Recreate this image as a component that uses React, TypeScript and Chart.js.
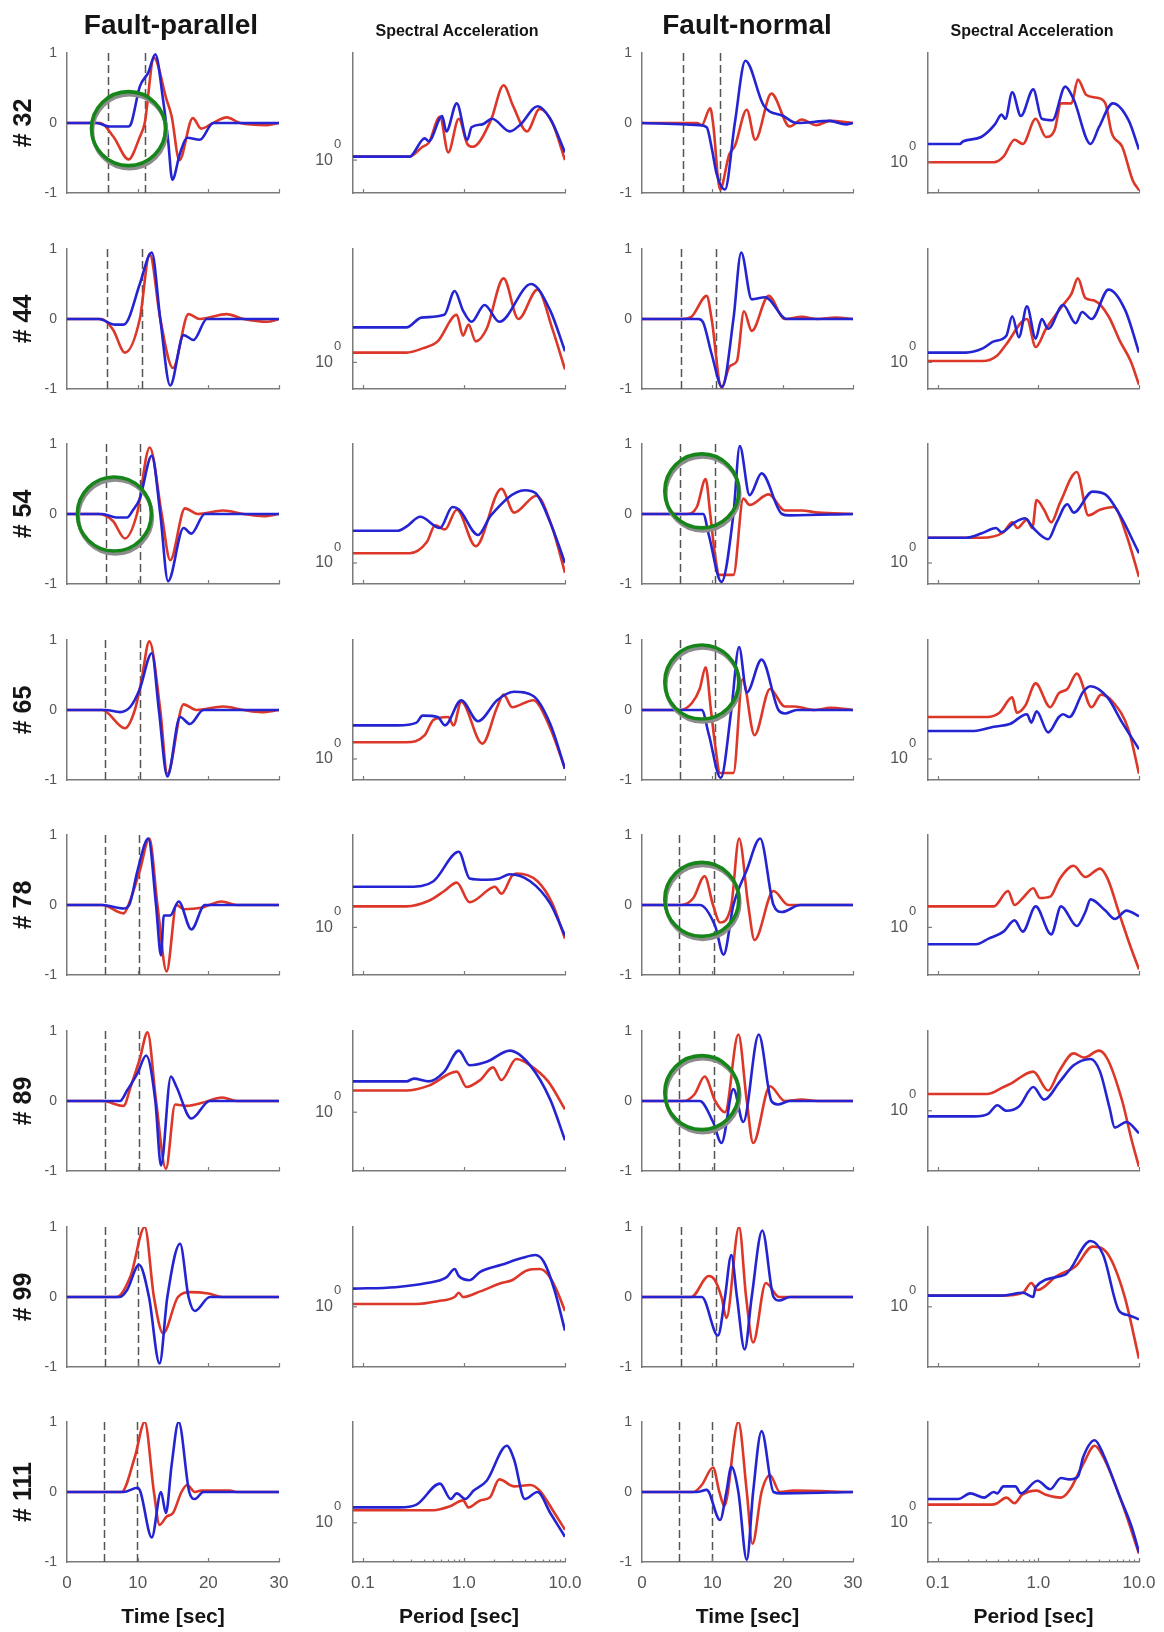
import React, { useEffect, useRef } from 'react';
import { Chart, registerables } from 'chart.js';

Chart.register(...registerables);

type Pt = [number, number];

// ---------- labels & ticks ----------
const rowLabels = ['# 32', '# 44', '# 54', '# 65', '# 78', '# 89', '# 99', '# 111'];
const columnTitles = ['Fault-parallel', 'Spectral Acceleration', 'Fault-normal', 'Spectral Acceleration'];
const timeTicks = [0, 10, 20, 30];
const periodTicks = [0.1, 1, 10];
const periodMinorTicks = [0.2, 0.3, 0.4, 0.5, 0.6, 0.7, 0.8, 0.9, 2, 3, 4, 5, 6, 7, 8, 9];
const amplitudeTicks = [-1, 0, 1];

// ---------- normalized velocity time histories: [time s, amplitude] ----------
const fpRed: Pt[][] = [
  [[0,0],[4.7,0],[6.6,-0.2],[8.7,-0.52],[10.3,-0.2],[11,0],[12.3,0.93],[14.1,0.33],[14.8,0.1],[15.9,-0.53],[17.8,0.07],[19,-0.08],[20.5,-0.01],[22.6,0.08],[24.5,0],[28.3,-0.03],[30,0]],
  [[0,0],[4.9,0],[6.5,-0.15],[8.2,-0.48],[10.3,0],[11.7,0.93],[13.2,0],[15,-0.7],[17.2,0.07],[18.8,0],[22.6,0.07],[25,0],[28.3,-0.04],[30,0]],
  [[0,0],[4.5,0],[6.5,-0.1],[8.2,-0.35],[9.9,0],[11.7,0.95],[13.4,0],[14.6,-0.66],[16.7,0.08],[18.5,0],[22.1,0.05],[25,0],[27.8,-0.03],[30,0]],
  [[0,0],[5,0],[8.2,-0.26],[9.6,0],[10.5,0.4],[11.65,0.98],[13.2,0],[14.2,-0.91],[16.5,0.08],[18.3,0],[22.1,0.05],[25,0],[27.5,-0.03],[30,0]],
  [[0,0],[5,0],[8,-0.12],[8.7,0],[10.3,0.49],[11.65,0.95],[12.8,0],[14.1,-0.95],[15.5,0],[16.5,-0.06],[19,-0.04],[21.9,0.05],[24,0],[30,0]],
  [[0,0],[5,0],[8,-0.07],[9,0.2],[10.3,0.6],[11.4,0.98],[12.6,0],[14,-0.97],[15.3,-0.05],[17,-0.07],[19,-0.03],[22,0.05],[24,0],[30,0]],
  [[0,0],[7,0],[9,0.3],[11,1.0],[12.3,0],[13.6,-0.52],[15.7,0],[17.5,0.07],[20,0.05],[22,0],[30,0]],
  [[0,0],[7.7,0],[9.6,0.5],[11,1.0],[12.3,0],[13.1,-0.47],[14.1,-0.35],[15,-0.3],[16.2,0],[17,0.1],[18.1,0],[19,0.02],[23,0.02],[24,0],[30,0]],
];
const fpBlue: Pt[][] = [
  [[0,0],[4.2,0],[6,-0.05],[8.7,-0.05],[9.1,0],[10.3,0.52],[11.5,0.72],[12.5,0.98],[13.6,0.33],[14.3,-0.24],[14.9,-0.81],[16,-0.43],[17,-0.21],[18.8,-0.24],[20.7,0],[30,0]],
  [[0,0],[4.5,0],[6.8,-0.08],[8,-0.08],[8.7,0],[10.3,0.5],[12,0.95],[13.2,0],[14.6,-0.95],[16.5,-0.23],[17.9,-0.3],[19.8,0],[30,0]],
  [[0,0],[5,0],[7,-0.05],[8.5,-0.05],[9.3,0.05],[10.3,0.22],[12,0.83],[13.2,0],[14.3,-0.96],[16.5,-0.2],[17.6,-0.28],[19.5,0],[30,0]],
  [[0,0],[5.5,0],[7.5,-0.03],[9,0.05],[10.3,0.3],[12,0.81],[13,0],[14.2,-0.95],[16,-0.1],[17.4,-0.2],[19.3,0],[30,0]],
  [[0,0],[5,0],[8,-0.05],[8.8,0],[10,0.5],[11.5,0.95],[12.6,0],[13.3,-0.72],[13.7,-0.15],[14.6,-0.15],[15.8,0.05],[17.6,-0.35],[19.5,0],[30,0]],
  [[0,0],[5.5,0],[7.5,0],[8.5,0.15],[10,0.4],[11.2,0.65],[12.5,0],[13.3,-0.92],[14.7,0.35],[15.5,0.2],[17.6,-0.25],[20.2,0],[30,0]],
  [[0,0],[7.5,0],[8.5,0.1],[10.2,0.46],[11.6,0],[13.1,-0.95],[14.2,0],[16,0.76],[17.2,0],[18.1,-0.2],[20.2,0],[30,0]],
  [[0,0],[8,0],[10,0.06],[10.4,0],[12,-0.65],[13.3,0],[14,-0.3],[14.8,0.38],[15.8,1.0],[17.3,0],[18.1,-0.1],[19.3,0],[30,0]],
];
const fnRed: Pt[][] = [
  [[0,0],[7.8,0],[8.5,-0.03],[9.7,0.21],[10.1,0],[11.1,-0.95],[12.4,-0.45],[13.2,-0.33],[14.9,0.19],[16.1,-0.24],[18.4,0.42],[21,-0.05],[22.7,0.05],[24.8,-0.03],[26.7,0.03],[30,0]],
  [[0,0],[5.6,0],[7,0.03],[9.2,0.33],[9.9,0],[11.3,-0.98],[12.5,-0.67],[13.5,-0.6],[14.5,0.11],[15.6,-0.17],[18,0.33],[20.3,0],[22.7,0.03],[25,0],[27.5,0.02],[30,0]],
  [[0,0],[6.3,0],[7.8,0.1],[9.05,0.5],[9.7,0],[10.4,-0.6],[11,-0.87],[13,-0.87],[14.4,0.22],[15.3,0.13],[18,0.28],[20.3,0.05],[22.7,0.05],[25,0.02],[30,0]],
  [[0,0],[5.4,0],[7.1,0.1],[8.2,0.3],[9.05,0.61],[9.8,0],[10.4,-0.5],[11.1,-0.9],[13,-0.9],[14.3,0.44],[16,-0.36],[18.2,0.3],[20.3,0.05],[21.7,0.05],[24.5,0],[26.8,0.03],[30,0]],
  [[0,0],[5.6,0],[7.3,0.1],[8.9,0.41],[10.1,0],[11.1,-0.25],[12.7,0],[13.8,0.95],[15.1,0],[16,-0.5],[18.7,0.2],[20.8,0],[30,0]],
  [[0,0],[5.9,0],[7.5,0.1],[8.9,0.35],[10.4,0],[11.8,-0.16],[13.7,0.95],[14.9,0],[15.8,-0.6],[18.2,0.21],[20.3,0],[22.7,0.02],[25,0],[30,0]],
  [[0,0],[7,0],[9.5,0.3],[10.3,0.25],[11.3,0],[12,-0.3],[13.8,1.0],[14.8,0],[15.8,-0.65],[17.6,0.2],[19.5,0],[30,0]],
  [[0,0],[7.3,0],[8.5,0.1],[10.1,0.35],[11,0],[11.7,-0.2],[13.7,1.0],[14.9,0],[15.7,-0.74],[17,0],[18.2,0.24],[19.6,0],[21.5,0.02],[30,0]],
];
const fnBlue: Pt[][] = [
  [[0,0],[8.2,-0.03],[9.2,-0.06],[9.9,-0.35],[10.6,-0.72],[11.8,-0.95],[13.2,0],[14.7,0.89],[17.3,0.25],[20.1,0.1],[22,0],[26.7,0.03],[29,-0.02],[30,0]],
  [[0,0],[8,0],[8.7,-0.05],[9.9,-0.5],[11.4,-0.97],[13,0],[14.1,0.95],[15.6,0.28],[17.5,0.31],[20.6,0],[30,0]],
  [[0,0],[8.7,0],[9.5,-0.3],[11.3,-0.97],[13,0],[13.9,0.97],[15.3,0.27],[17,0.58],[19.9,0],[21,-0.02],[30,0]],
  [[0,0],[8.5,0],[9.5,-0.35],[11.2,-0.97],[12.7,0],[13.8,0.9],[14.9,0.25],[17,0.72],[19.4,0],[20.3,-0.05],[22,0],[30,0]],
  [[0,0],[8.2,0],[10.4,-0.3],[11.6,-0.71],[13,0],[14.9,0.5],[16.8,0.95],[18.7,0],[19.9,-0.1],[22.5,0],[30,0]],
  [[0,0],[8.2,0],[10.1,-0.3],[11.3,-0.6],[13,0.17],[14.4,-0.3],[16.6,0.95],[18.4,0],[19.3,-0.05],[21,0],[30,0]],
  [[0,0],[8.5,0],[10.8,-0.55],[11.8,0],[12.7,0.6],[13.5,0],[14.6,-0.75],[15.6,0],[17.1,0.95],[18.7,0],[19.5,-0.05],[21,0],[30,0]],
  [[0,0],[7.8,0],[9.2,0.03],[11.1,-0.4],[12,0],[12.7,0.36],[13.7,0],[14.9,-0.97],[15.8,0],[17,0.87],[18.7,0],[19.8,-0.02],[30,0]],
];

// start / end markers of the pulse window (s)
const fpMarkers: Pt[] = [[5.85,11.1],[5.6,10.6],[5.5,10.4],[5.4,10.3],[5.4,10.2],[5.4,10.2],[5.4,10.0],[5.3,9.95]];
const fnMarkers: Pt[] = [[5.8,11.1],[5.5,10.5],[5.45,10.4],[5.45,10.4],[5.2,10.2],[5.2,10.2],[5.6,10.5],[5.3,9.9]];

// highlighted regions [time, amplitude]
const fpHighlights: (Pt | null)[] = [[8.7,-0.08], null, [6.7,0], null, null, null, null, null];
const fnHighlights: (Pt | null)[] = [null, null, [8.5,0.33], [8.5,0.4], [8.5,0.08], [8.5,0.12], null, null];

// ---------- spectral acceleration: [period s, relative log level] ----------
const saFpRed: Pt[][] = [
  [[0.08,0.26],[0.29,0.26],[0.39,0.33],[0.45,0.36],[0.58,0.545],[0.7,0.29],[0.89,0.53],[1.08,0.35],[1.22,0.33],[1.85,0.52],[2.47,0.77],[3.07,0.62],[4.2,0.44],[5.62,0.6],[7.5,0.5],[10,0.235]],
  [[0.08,0.26],[0.27,0.26],[0.39,0.29],[0.55,0.34],[0.85,0.53],[0.98,0.38],[1.11,0.46],[1.31,0.34],[1.68,0.43],[2.47,0.79],[3.46,0.5],[5.35,0.71],[7.5,0.43],[10,0.14]],
  [[0.08,0.22],[0.29,0.22],[0.43,0.3],[0.52,0.42],[0.65,0.39],[0.85,0.53],[1.31,0.27],[2.35,0.68],[3.14,0.51],[5.22,0.63],[7.5,0.4],[10,0.08]],
  [[0.08,0.27],[0.27,0.27],[0.41,0.32],[0.5,0.43],[0.7,0.45],[0.79,0.39],[0.94,0.56],[1.52,0.26],[2.13,0.52],[2.47,0.61],[3.0,0.52],[4.86,0.57],[7.15,0.37],[10,0.08]],
  [[0.08,0.49],[0.27,0.49],[0.45,0.53],[0.64,0.6],[0.85,0.66],[1.14,0.52],[1.85,0.62],[2.03,0.63],[2.35,0.58],[3.0,0.71],[3.3,0.725],[5.35,0.67],[7.5,0.51],[10,0.26]],
  [[0.08,0.575],[0.27,0.575],[0.45,0.61],[0.85,0.71],[1.06,0.6],[1.45,0.65],[1.94,0.74],[2.35,0.65],[3.3,0.8],[4.52,0.755],[6.81,0.64],[10,0.44]],
  [[0.08,0.45],[0.34,0.45],[0.55,0.47],[0.81,0.5],[0.89,0.53],[0.98,0.5],[1.45,0.54],[2.35,0.6],[3.0,0.62],[4.2,0.69],[5.62,0.7],[6.81,0.66],[8.26,0.55],[10,0.4]],
  [[0.08,0.37],[0.5,0.37],[0.74,0.4],[0.98,0.44],[1.11,0.39],[1.45,0.44],[1.8,0.46],[2.24,0.59],[3.14,0.54],[4.52,0.55],[5.62,0.51],[7.87,0.35],[10,0.23]],
];
const saFpBlue: Pt[][] = [
  [[0.08,0.26],[0.29,0.26],[0.41,0.39],[0.45,0.37],[0.61,0.55],[0.67,0.44],[0.85,0.64],[1.08,0.38],[1.19,0.47],[1.52,0.49],[1.9,0.53],[2.85,0.44],[3.63,0.49],[5.35,0.62],[7.15,0.53],[10,0.29]],
  [[0.08,0.44],[0.27,0.44],[0.38,0.51],[0.64,0.53],[0.81,0.7],[0.98,0.56],[1.19,0.48],[1.6,0.6],[2.24,0.48],[4.63,0.75],[7.15,0.56],[10,0.27]],
  [[0.08,0.38],[0.22,0.38],[0.27,0.41],[0.37,0.48],[0.58,0.4],[0.77,0.55],[0.9,0.53],[1.38,0.35],[1.85,0.49],[4.0,0.67],[5.1,0.65],[7.15,0.44],[10,0.15]],
  [[0.08,0.39],[0.22,0.39],[0.34,0.41],[0.39,0.46],[0.55,0.45],[0.65,0.39],[0.94,0.57],[1.38,0.42],[2.13,0.57],[3.14,0.63],[4.86,0.6],[7.15,0.4],[10,0.08]],
  [[0.08,0.63],[0.29,0.63],[0.5,0.67],[0.89,0.88],[1.14,0.69],[1.68,0.68],[2.24,0.69],[2.85,0.72],[4.52,0.67],[7.15,0.51],[10,0.28]],
  [[0.08,0.64],[0.27,0.64],[0.32,0.66],[0.45,0.64],[0.64,0.71],[0.89,0.86],[1.14,0.755],[1.68,0.78],[2.85,0.86],[4.52,0.755],[7.15,0.51],[10,0.22]],
  [[0.08,0.56],[0.21,0.57],[0.43,0.6],[0.67,0.64],[0.81,0.7],[0.89,0.65],[1.14,0.62],[1.45,0.68],[2.35,0.73],[3.82,0.78],[5.1,0.8],[6.19,0.75],[7.87,0.55],[10,0.26]],
  [[0.08,0.39],[0.23,0.39],[0.34,0.41],[0.58,0.56],[0.74,0.45],[0.85,0.49],[1.03,0.45],[1.25,0.51],[1.68,0.58],[2.66,0.83],[3.14,0.73],[4.0,0.45],[5.35,0.5],[7.15,0.35],[10,0.18]],
];
const saFnRed: Pt[][] = [
  [[0.08,0.22],[0.36,0.22],[0.45,0.26],[0.58,0.38],[0.7,0.35],[0.94,0.53],[1.19,0.4],[1.45,0.45],[1.68,0.64],[2.13,0.64],[2.47,0.81],[3.0,0.7],[3.82,0.68],[4.63,0.64],[5.35,0.43],[6.81,0.33],[8.67,0.09],[10,0.02]],
  [[0.08,0.2],[0.28,0.2],[0.39,0.24],[0.48,0.32],[0.77,0.5],[0.94,0.3],[1.19,0.43],[1.76,0.6],[2.13,0.68],[2.47,0.79],[2.93,0.65],[3.63,0.63],[4.98,0.52],[6.49,0.34],[8.26,0.2],[10,0.03]],
  [[0.08,0.33],[0.27,0.33],[0.45,0.37],[0.55,0.44],[0.62,0.4],[0.77,0.46],[0.87,0.4],[0.96,0.6],[1.14,0.53],[1.34,0.44],[1.64,0.58],[2.41,0.8],[3.14,0.49],[4.1,0.53],[5.62,0.55],[7.5,0.35],[10,0.05]],
  [[0.08,0.45],[0.31,0.45],[0.41,0.48],[0.55,0.59],[0.61,0.48],[0.74,0.53],[0.94,0.69],[1.31,0.52],[1.6,0.62],[1.94,0.65],[2.41,0.76],[3.38,0.52],[4.2,0.61],[5.62,0.55],[7.87,0.36],[10,0.045]],
  [[0.08,0.49],[0.36,0.49],[0.5,0.6],[0.58,0.5],[0.7,0.55],[0.89,0.62],[1.03,0.55],[1.31,0.56],[1.64,0.69],[2.24,0.78],[2.93,0.7],[4.1,0.76],[4.86,0.69],[6.49,0.42],[8.26,0.2],[10,0.04]],
  [[0.08,0.55],[0.31,0.55],[0.45,0.6],[0.52,0.62],[0.89,0.71],[1.25,0.575],[1.6,0.71],[2.24,0.84],[2.85,0.81],[4.0,0.86],[4.86,0.8],[6.81,0.5],[8.46,0.22],[10,0.03]],
  [[0.08,0.51],[0.43,0.51],[0.7,0.53],[0.85,0.6],[0.98,0.55],[1.52,0.65],[2.35,0.72],[3.46,0.86],[4.86,0.81],[7.15,0.51],[10,0.06]],
  [[0.08,0.41],[0.34,0.41],[0.39,0.42],[0.48,0.46],[0.58,0.42],[0.69,0.48],[0.96,0.51],[1.19,0.48],[1.68,0.46],[2.03,0.51],[2.79,0.7],[3.63,0.83],[4.41,0.75],[6.49,0.46],[10,0.06]],
];
const saFnBlue: Pt[][] = [
  [[0.08,0.35],[0.165,0.35],[0.18,0.37],[0.27,0.4],[0.37,0.49],[0.43,0.56],[0.47,0.53],[0.55,0.72],[0.67,0.55],[0.89,0.74],[1.08,0.53],[1.38,0.52],[1.85,0.76],[2.24,0.67],[3.3,0.35],[4.0,0.47],[5.5,0.64],[7.87,0.52],[10,0.31]],
  [[0.08,0.26],[0.19,0.26],[0.28,0.29],[0.36,0.34],[0.48,0.38],[0.55,0.52],[0.64,0.37],[0.77,0.59],[0.94,0.36],[1.08,0.5],[1.25,0.43],[1.76,0.6],[2.35,0.47],[2.72,0.55],[3.38,0.5],[4.98,0.71],[7.33,0.56],[10,0.26]],
  [[0.08,0.33],[0.19,0.33],[0.27,0.36],[0.38,0.4],[0.43,0.37],[0.58,0.44],[0.74,0.47],[0.89,0.4],[1.25,0.32],[1.52,0.44],[1.94,0.57],[2.24,0.51],[3.46,0.66],[4.63,0.64],[6.49,0.49],[10,0.22]],
  [[0.08,0.35],[0.23,0.35],[0.36,0.38],[0.52,0.4],[0.77,0.47],[0.85,0.41],[0.96,0.49],[1.25,0.34],[1.6,0.45],[1.76,0.47],[2.03,0.45],[2.79,0.63],[3.3,0.67],[4.86,0.59],[6.81,0.41],[10,0.22]],
  [[0.08,0.22],[0.24,0.22],[0.32,0.26],[0.45,0.31],[0.58,0.39],[0.7,0.31],[0.94,0.49],[1.34,0.29],[1.68,0.49],[2.41,0.35],[2.93,0.45],[3.3,0.54],[4.63,0.46],[5.75,0.4],[7.5,0.46],[10,0.42]],
  [[0.08,0.39],[0.23,0.39],[0.32,0.41],[0.39,0.47],[0.48,0.43],[0.64,0.46],[0.89,0.6],[1.14,0.51],[1.64,0.64],[2.24,0.755],[3.3,0.8],[4.1,0.71],[5.1,0.45],[5.75,0.31],[7.5,0.35],[10,0.27]],
  [[0.08,0.51],[0.43,0.51],[0.7,0.53],[0.89,0.5],[0.94,0.57],[1.85,0.66],[3.3,0.9],[4.41,0.8],[6.35,0.4],[7.87,0.37],[10,0.34]],
  [[0.08,0.45],[0.16,0.45],[0.21,0.49],[0.29,0.46],[0.36,0.5],[0.39,0.49],[0.45,0.54],[0.59,0.54],[0.67,0.49],[0.98,0.58],[1.31,0.52],[1.68,0.6],[2.03,0.59],[2.47,0.61],[2.79,0.75],[3.63,0.87],[4.41,0.77],[6.49,0.46],[8.46,0.25],[10,0.07]],
];
// level of the 10^0 reference on each spectral axis
const saFpRef = [0.235, 0.19, 0.15, 0.15, 0.34, 0.42, 0.43, 0.28];
const saFnRef = [0.22, 0.19, 0.15, 0.15, 0.34, 0.43, 0.43, 0.28];

// ---------- styling / layout ----------
const FONT = "'Liberation Sans', Arial, Helvetica, sans-serif";
const RED = '#dc3728';
const BLUE = '#2424d2';
const AXIS = '#7a7a7a';
const LABEL = '#555555';
const DASH = '#555555';
const COL_LEFT = [67, 353, 642, 928];
const COL_W = [212, 212, 211, 211];
const ROW_TOP0 = 53;
const ROW_PITCH = 195.6;
const PLOT_H = 140;
const PADL = 62;
const PADT = 14;
const PADR = 26;
const TITLE_X = [171, 457, 747, 1032];

const rowTop = (r: number) => Math.round(ROW_TOP0 + r * ROW_PITCH);
const padBottom = (r: number) => (r === 7 ? 72 : 12);

function seriesFor(r: number, c: number): [Pt[], Pt[]] {
  if (c === 0) return [fpBlue[r], fpRed[r]];
  if (c === 1) return [saFpBlue[r], saFpRed[r]];
  if (c === 2) return [fnBlue[r], fnRed[r]];
  return [saFnBlue[r], saFnRed[r]];
}

function decorPlugin(r: number, c: number) {
  const isTime = c % 2 === 0;
  const bottom = r === 7;
  const ref = c === 1 ? saFpRef[r] : saFnRef[r];
  return {
    id: `decor_${r}_${c}`,
    beforeDatasetsDraw(chart: any) {
      if (!isTime) return;
      const { ctx } = chart;
      const x = chart.scales.x;
      const y = chart.scales.y;
      const marks = c === 0 ? fpMarkers[r] : fnMarkers[r];
      ctx.save();
      ctx.strokeStyle = DASH;
      ctx.lineWidth = 1.5;
      ctx.setLineDash([8, 4]);
      for (const t of marks) {
        const px = Math.round(x.getPixelForValue(t)) + 0.5;
        ctx.beginPath();
        ctx.moveTo(px, y.getPixelForValue(1));
        ctx.lineTo(px, y.getPixelForValue(-1));
        ctx.stroke();
      }
      ctx.restore();
    },
    afterDatasetsDraw(chart: any) {
      if (!isTime) return;
      const h = c === 0 ? fpHighlights[r] : fnHighlights[r];
      if (!h) return;
      const { ctx } = chart;
      const cx = chart.scales.x.getPixelForValue(h[0]);
      const cy = chart.scales.y.getPixelForValue(h[1]);
      ctx.save();
      ctx.lineWidth = 3.6;
      ctx.strokeStyle = '#8c8c8c';
      ctx.beginPath();
      ctx.arc(cx + 1, cy + 3, 37, 0, Math.PI * 2);
      ctx.stroke();
      ctx.strokeStyle = '#17861a';
      ctx.beginPath();
      ctx.arc(cx, cy, 37, 0, Math.PI * 2);
      ctx.stroke();
      ctx.restore();
    },
    afterDraw(chart: any) {
      const { ctx, chartArea: ca } = chart;
      const x = chart.scales.x;
      const y = chart.scales.y;
      ctx.save();
      ctx.strokeStyle = AXIS;
      ctx.lineWidth = 1.2;
      const majors = isTime ? timeTicks.slice(1) : periodTicks;
      for (const v of majors) {
        const px = Math.round(x.getPixelForValue(v)) + 0.5;
        ctx.beginPath();
        ctx.moveTo(px, ca.bottom);
        ctx.lineTo(px, ca.bottom - 4);
        ctx.stroke();
      }
      if (!isTime && bottom) {
        for (const v of periodMinorTicks) {
          const px = Math.round(x.getPixelForValue(v)) + 0.5;
          ctx.beginPath();
          ctx.moveTo(px, ca.bottom);
          ctx.lineTo(px, ca.bottom - 2.5);
          ctx.stroke();
        }
      }
      if (!isTime) {
        const py = y.getPixelForValue(ref);
        ctx.beginPath();
        ctx.moveTo(ca.left, py);
        ctx.lineTo(ca.left + 4, py);
        ctx.stroke();
        ctx.fillStyle = LABEL;
        ctx.font = `13px ${FONT}`;
        ctx.textAlign = 'left';
        ctx.textBaseline = 'middle';
        ctx.fillText('0', ca.left - 19, py - 16);
      }
      ctx.restore();
    },
  };
}

function buildConfig(r: number, c: number): any {
  const isTime = c % 2 === 0;
  const bottom = r === 7;
  const padB = padBottom(r);
  const [blue, red] = seriesFor(r, c);
  const ref = c === 1 ? saFpRef[r] : saFnRef[r];
  const ds = (pts: Pt[], color: string) => ({
    data: pts.map(([px, py]) => ({ x: px, y: py })),
    borderColor: color,
    backgroundColor: color,
    borderWidth: 2.6,
    pointRadius: 0,
    pointHoverRadius: 0,
    cubicInterpolationMode: 'monotone',
    fill: false,
  });
  const border = { display: true, color: AXIS, width: 1.5 };
  const grid = { display: false, drawTicks: false };
  const xTitle = {
    display: bottom,
    text: isTime ? 'Time [sec]' : 'Period [sec]',
    font: { family: FONT, size: 21, weight: 'bold' },
    color: '#151515',
    padding: { top: 0, bottom: 4 },
  };
  const fitX = (s: any) => { s.height = padB; s.paddingLeft = 0; s.paddingRight = 0; };
  const fitY = (s: any) => { s.width = PADL; s.paddingTop = 0; s.paddingBottom = 0; };
  const xScale = isTime
    ? {
        type: 'linear', min: 0, max: 30,
        afterBuildTicks: (s: any) => { s.ticks = timeTicks.map((v) => ({ value: v })); },
        afterFit: fitX,
        ticks: { display: bottom, color: LABEL, font: { family: FONT, size: 17 }, padding: 11, maxRotation: 0, autoSkip: false, callback: (v: any) => String(v) },
        grid, border, title: xTitle,
      }
    : {
        type: 'logarithmic', min: 0.08, max: 10,
        afterBuildTicks: (s: any) => { s.ticks = periodTicks.map((v) => ({ value: v })); },
        afterFit: fitX,
        ticks: { display: bottom, color: LABEL, font: { family: FONT, size: 17 }, padding: 11, maxRotation: 0, autoSkip: false, callback: (v: any) => Number(v).toFixed(1) },
        grid, border, title: xTitle,
      };
  const yScale = isTime
    ? {
        type: 'linear', min: -1, max: 1,
        afterBuildTicks: (s: any) => { s.ticks = amplitudeTicks.map((v) => ({ value: v })); },
        afterFit: fitY,
        ticks: { color: LABEL, font: { family: FONT, size: 14 }, padding: 10, callback: (v: any) => String(v) },
        grid, border,
      }
    : {
        type: 'linear', min: 0, max: 1,
        afterBuildTicks: (s: any) => { s.ticks = [{ value: ref }]; },
        afterFit: fitY,
        ticks: { color: LABEL, font: { family: FONT, size: 16 }, padding: 20, callback: () => '10' },
        grid, border,
      };
  return {
    type: 'line',
    data: { datasets: [ds(blue, BLUE), ds(red, RED)] },
    options: {
      animation: false,
      responsive: false,
      devicePixelRatio: 1,
      events: [],
      layout: { padding: { top: PADT, right: PADR, left: 0, bottom: 0 } },
      plugins: { legend: { display: false }, tooltip: { enabled: false }, title: { display: false } },
      scales: { x: xScale, y: yScale },
    },
    plugins: [decorPlugin(r, c)],
  };
}

export default function App() {
  const refs = useRef<(HTMLCanvasElement | null)[]>([]);

  useEffect(() => {
    const charts: Chart[] = [];
    for (let r = 0; r < 8; r++) {
      for (let c = 0; c < 4; c++) {
        const cv = refs.current[r * 4 + c];
        if (cv) charts.push(new Chart(cv, buildConfig(r, c)));
      }
    }
    return () => charts.forEach((ch) => ch.destroy());
  }, []);

  const canvases = [];
  for (let r = 0; r < 8; r++) {
    for (let c = 0; c < 4; c++) {
      const w = PADL + COL_W[c] + PADR;
      const h = PADT + PLOT_H + padBottom(r);
      canvases.push(
        <canvas
          key={`${r}-${c}`}
          ref={(el) => { refs.current[r * 4 + c] = el; }}
          width={w}
          height={h}
          style={{ position: 'absolute', left: COL_LEFT[c] - PADL, top: rowTop(r) - PADT, width: w, height: h }}
        />
      );
    }
  }

  return (
    <div style={{ position: 'absolute', left: 0, top: 0, width: 1164, height: 1632, background: '#ffffff', overflow: 'hidden', fontFamily: FONT }}>
      {canvases}
      {columnTitles.map((t, c) => {
        const big = c % 2 === 0;
        const size = big ? 28 : 16;
        const baseline = big ? 34.5 : 36.7;
        return (
          <div
            key={`title-${c}`}
            style={{
              position: 'absolute', left: TITLE_X[c], top: baseline - 0.8465 * size,
              transform: 'translateX(-50%)', fontSize: size, lineHeight: `${size}px`,
              fontWeight: 'bold', whiteSpace: 'nowrap', color: '#151515',
            }}
          >
            {t}
          </div>
        );
      })}
      {rowLabels.map((t, r) => (
        <div
          key={`row-${r}`}
          style={{
            position: 'absolute', left: 22, top: rowTop(r) + PLOT_H / 2,
            transform: 'translate(-50%, -50%) rotate(-90deg)', fontSize: 25, lineHeight: '25px',
            fontWeight: 'bold', whiteSpace: 'nowrap', color: '#151515',
          }}
        >
          {t}
        </div>
      ))}
    </div>
  );
}
